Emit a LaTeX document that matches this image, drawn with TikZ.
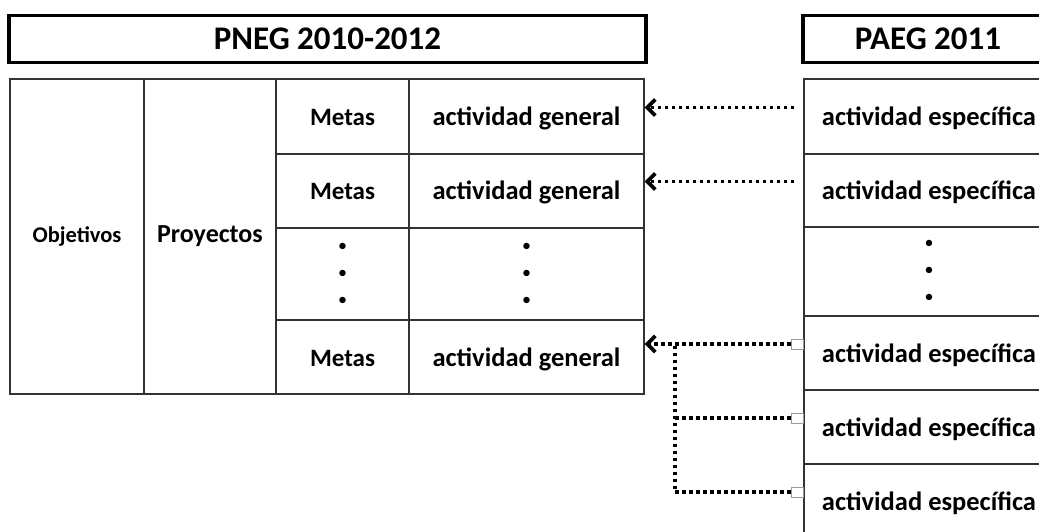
\documentclass[tikz,border=0pt]{standalone}
\usepackage{fontspec}
\setmainfont{Carlito}
\usetikzlibrary{positioning,calc,arrows.meta,shadows}

\tikzset{
  titlebox/.style={draw, fill=white, line width=3.2pt, minimum height=47pt, inner sep=0pt,
    font=\fontsize{33}{35}\selectfont\bfseries,
    drop shadow={shadow xshift=1.5pt, shadow yshift=-1.5pt, opacity=.4, fill=black!50}},
  cell/.style={draw=black!80, line width=1.4pt, inner sep=0pt,
    font=\fontsize{26.5}{28}\selectfont\bfseries},
  lbl/.style={text height=19pt, text depth=1pt},
  dots/.style={align=center, font=\fontsize{18}{27}\selectfont},
  port/.style={draw=black!40, line width=.6pt, minimum width=12pt, minimum height=10pt, inner sep=0pt},
  dotline/.style={line width=3.6pt, dash pattern=on 3.6pt off 3.4pt},
  link/.style={dotline, -{Straight Barb[length=8pt,width=16pt,line width=3.6pt]}}
}

\begin{document}
\begin{tikzpicture}[x=1pt,y=1pt]
  \useasboundingbox (0,0) rectangle (1039,531);
  \clip (0,0) rectangle (1039,531);

  % titles
  \node[titlebox, minimum width=637pt] (pneg) at (327.5,492) {PNEG 2010-2012};
  \node[titlebox, minimum width=250pt] (paeg) at (928,492) {PAEG 2011};

  % left table
  \node[cell, minimum width=134pt, minimum height=315pt,
        font=\fontsize{22.5}{24}\selectfont\bfseries] (obj) at (77,294.5) {Objetivos};
  \node[cell, minimum width=132pt, minimum height=315pt,
        font=\fontsize{26}{28}\selectfont\bfseries] (proy) at (210,294.5) {Proyectos};

  \foreach \n/\y/\h in {1/414.5/75, 2/340/74, 4/174/74}{
    \node[cell, lbl, minimum width=133pt, minimum height=\h pt,
          font=\fontsize{25}{27}\selectfont\bfseries] (m\n) at (342.5,\y) {Metas};
    \node[cell, lbl, minimum width=235pt, minimum height=\h pt] (g\n) at (526.5,\y) {actividad general};
  }
  \node[cell, dots, minimum width=133pt, minimum height=92pt] (m3) at (342.5,257)
    {\textbullet\\\textbullet\\\textbullet};
  \node[cell, dots, minimum width=235pt, minimum height=92pt] (g3) at (526.5,257)
    {\textbullet\\\textbullet\\\textbullet};

  % right table
  \foreach \n/\y/\h in {1/414.5/75, 2/340.5/73, 4/178/74, 5/104/74, 6/30/74}{
    \node[cell, lbl, minimum width=250pt, minimum height=\h pt] (ra\n) at (929,\y) {actividad específica};
  }
  \node[cell, dots, minimum width=250pt, minimum height=89pt] (ra3) at (929,259.5)
    {\textbullet\\\textbullet\\\textbullet};

  % links
  \coordinate (s1) at ([shift={(-9,9)}]ra1.west);
  \coordinate (s2) at ([shift={(-9,9)}]ra2.west);
  \draw[link] (s1) -- (s1 -| g1.east);
  \draw[link] (s2) -- (s2 -| g2.east);

  \foreach \n in {4,5,6}
    \node[port] (p\n) at ([shift={(-6,9)}]ra\n.west) {};
  \draw[link] (p4.west) -- (p4.west -| g4.east);
  \coordinate (jn) at ($(p4.west -| g4.east)+(30,0)$);
  \draw[dotline] (p5.west) -- (p5.west -| jn);
  \draw[dotline] (p6.west) -| (jn);
\end{tikzpicture}
\end{document}
